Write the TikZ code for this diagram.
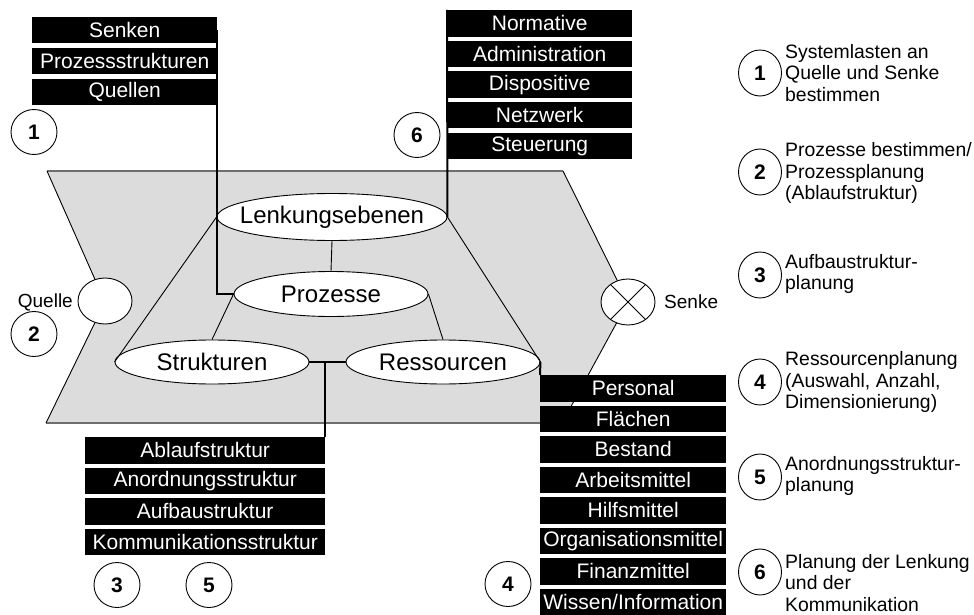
\documentclass[tikz,border=0pt]{standalone}
\usepackage{fontspec}
\setmainfont{Liberation Sans}
\usetikzlibrary{shapes.geometric}
\definecolor{plane}{HTML}{DCDCDC}
\definecolor{planeedge}{HTML}{6E6E6E}
\begin{document}
\begin{tikzpicture}[x=1pt,y=-1pt,
  lst/.style={fill=black,text=white,inner sep=0pt,minimum height=26.5pt,anchor=north west,font=\fontsize{21}{21}\selectfont},
  ell/.style={ellipse,draw=black,fill=white,line width=0.9pt,inner sep=0pt,minimum width=194pt,minimum height=45pt,font=\fontsize{24}{24}\selectfont},
  num/.style={ellipse,draw=black,line width=0.9pt,inner sep=0pt,minimum width=46pt,minimum height=45pt,font=\bfseries\fontsize{21}{21}\selectfont},
  portal/.style={ellipse,draw=black,fill=white,line width=0.9pt,inner sep=0pt,minimum width=54pt,minimum height=46pt},
  conn/.style={line width=2pt},
  thinline/.style={line width=0.9pt},
  leg/.style={anchor=west,align=left,inner sep=0pt,font=\fontsize{19.4}{21.5}\selectfont},
  lab/.style={inner sep=0pt,font=\fontsize{19}{19}\selectfont},
]
\useasboundingbox (0,0) rectangle (974,615);

% plane
\fill[plane] (47,171) -- (563,171) -- (628,302) -- (562,423) -- (46,423) -- (105,302) -- cycle;
\draw[planeedge,line width=1.8pt] (47,171) -- (563,171);
\draw[planeedge,line width=1.8pt] (46,423) -- (562,423);
\draw[thinline] (47,171) -- (105,302) -- (46,423);
\draw[thinline] (563,171) -- (628,302) -- (562,423);

% source / sink
\node[portal] (quelle) at (105,301) {};
\node[portal] (senke) at (628,302) {};
\draw[thinline] (senke.45) -- (senke.225) (senke.135) -- (senke.315);
\node[lab,anchor=east] (qlab) at (73,302) {Quelle};
\node[lab,anchor=west] (slab) at (664,302) {Senke};

% ellipses
\node[ell,minimum width=230pt,minimum height=47pt] (lenk) at (332,217) {\makebox[0pt]{Lenkungsebenen}};
\node[ell] (proz) at (331,294) {\makebox[0pt]{Prozesse}};
\node[ell,minimum height=44pt] (strk) at (212,362) {\makebox[0pt]{Strukturen}};
\node[ell,minimum height=44pt] (ress) at (443,362) {\makebox[0pt]{Ressourcen}};

% thin connectors
\draw[thinline] (lenk.west) -- (strk.west);
\draw[thinline] (lenk.east) -- (ress.east);
\draw[thinline] (lenk.south) -- (proz.north);
\draw[thinline] (proz.west) -- (strk.north);
\draw[thinline] (proz.east) -- (ress.north);

% lists
\foreach \t [count=\i] in {Senken,Prozessstrukturen,Quellen}
  \node[lst,minimum width=185pt,minimum height=26pt] (ls\i) at (32,{17+31*(\i-1)}) {\t};
\foreach \t [count=\i] in {Normative,Administration,Dispositive,Netzwerk,Steuerung}
  \node[lst,minimum width=185pt] (ln\i) at (447,{10+30.6*(\i-1)}) {\t};
\foreach \t [count=\i] in {Ablaufstruktur,Anordnungsstruktur,Aufbaustruktur,Kommunikationsstruktur}
  \node[lst,minimum width=240pt] (la\i) at (85,{437+30.5*(\i-1)}) {\t};
\foreach \t [count=\i] in {Personal,Flächen,Bestand,Arbeitsmittel,Hilfsmittel,Organisationsmittel,Finanzmittel,Wissen/Information}
  \node[lst,minimum width=186pt] (lr\i) at (540,{375+30.5*(\i-1)}) {\t};

% thick connectors
\draw[conn] (ls1.east) |- (proz.west);
\draw[conn] (ln1.north west) -- (lenk.east);
\draw[conn] (strk.east) -- (ress.west);
\draw[conn] (la1.north east) -- (la1.north east |- strk.east);
\draw[conn] (ress.east) -- (lr1.north west);

% number circles
\node[num] (n1a) at (34,132) {1};
\node[num] (n2a) at (34,334) {2};
\node[num] (n6a) at (417,135) {6};
\node[num] (n3a) at (117,585) {3};
\node[num] (n5a) at (209,585) {5};
\node[num] (n4a) at (508,584) {4};

% legend
\node[num,minimum width=43pt,minimum height=46pt] (g1) at (760,73) {1};
\node[leg] (t1) at (785,73) {Systemlasten an\\Quelle und Senke\\bestimmen};
\node[num,minimum width=43pt,minimum height=46pt] (g2) at (760,172) {2};
\node[leg] (t2) at (785,173) {Prozesse bestimmen/\\Prozessplanung\\(Ablaufstruktur)};
\node[num,minimum width=43pt,minimum height=46pt] (g3) at (760,275) {3};
\node[leg] (t3) at (785,274) {Aufbaustruktur-\\planung};
\node[num,minimum width=43pt,minimum height=46pt] (g4) at (760,382) {4};
\node[leg] (t4) at (785,382) {Ressourcenplanung\\(Auswahl, Anzahl,\\Dimensionierung)};
\node[num,minimum width=43pt,minimum height=46pt] (g5) at (760,477) {5};
\node[leg] (t5) at (785,476) {Anordnungsstruktur-\\planung};
\node[num,minimum width=43pt,minimum height=46pt] (g6) at (760,572) {6};
\node[leg] (t6) at (785,583) {Planung der Lenkung\\und der\\Kommunikation};
\end{tikzpicture}
\end{document}
